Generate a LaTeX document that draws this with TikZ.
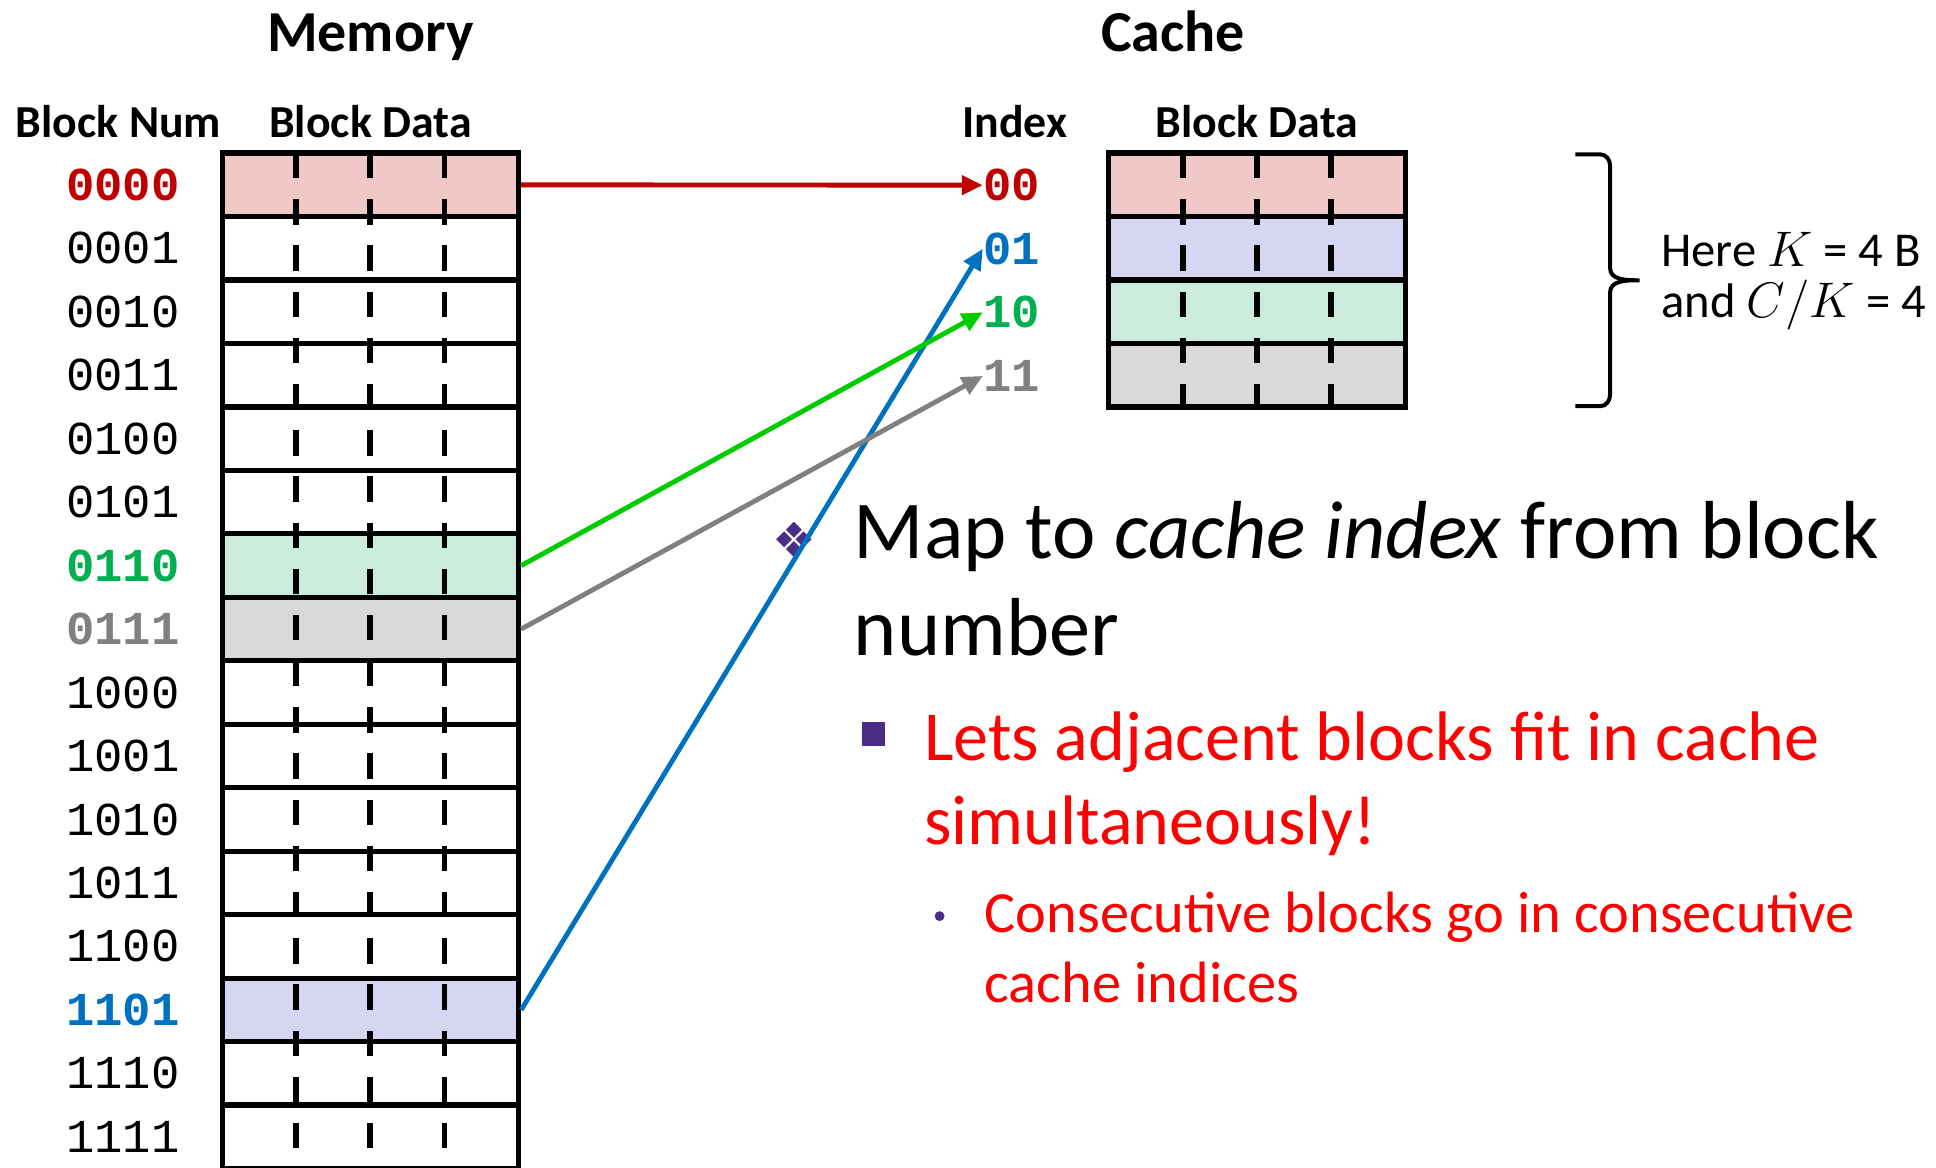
\documentclass[tikz,border=0pt]{standalone}
\usepackage{fontspec}
\setmainfont{Carlito}
\newfontfamily\codefont{Liberation Mono}
\newfontfamily\symfont{DejaVu Sans}
\usetikzlibrary{arrows.meta}

\definecolor{darkred}{HTML}{C00000}
\definecolor{brightred}{HTML}{FF0000}
\definecolor{idxblue}{HTML}{0070C0}
\definecolor{idxgreen}{HTML}{00B050}
\definecolor{linkgreen}{HTML}{00CC00}
\definecolor{idxgray}{HTML}{808080}
\definecolor{bulletpurple}{HTML}{4B2D88}
\definecolor{pinkrow}{HTML}{F0C8C8}
\definecolor{bluerow}{HTML}{D6D6F2}
\definecolor{mintrow}{HTML}{CBEBDC}
\definecolor{grayrow}{HTML}{D9D9D9}

\begin{document}
\begin{tikzpicture}[x=0.0125cm, y=-0.0125cm,
	cell/.style={draw, line width=1.5pt, minimum width=3cm, minimum height=0.6425cm, inner sep=0pt},
	divider/.style={line width=1.7pt, dash pattern=on 7.3pt off 6pt},
	num/.style={font=\codefont\fontsize{13.6}{13.6}\selectfont, inner sep=0pt, anchor=east},
	idx/.style={font=\codefont\bfseries\fontsize{13.6}{13.6}\selectfont, inner sep=0pt, anchor=west},
	head/.style={font=\bfseries\fontsize{13.2}{13.2}\selectfont, inner sep=0pt, anchor=base},
	title/.style={font=\bfseries\fontsize{16.7}{16.7}\selectfont, inner sep=0pt, anchor=base},
	line/.style={inner sep=0pt, anchor=base west},
	link/.style={line width=1.4pt, arrows={-Triangle[length=6pt,width=5.4pt]}}]
	\useasboundingbox (0,0) rectangle (1568,946);

	% headings
	\node[title] (memtitle) at (300,42) {Memory};
	\node[title] (cachetitle) at (950,42) {Cache};
	\node[head] (numhead) at (96,111) {Block Num};
	\node[head] (memhead) at (300,111) {Block Data};
	\node[head] (idxhead) at (822,111) {Index};
	\node[head] (cachehead) at (1018,111) {Block Data};

	% memory blocks
	\foreach \i/\shade in {0/pinkrow,1/white,2/white,3/white,4/white,5/white,6/mintrow,7/grayrow,
		8/white,9/white,10/white,11/white,12/white,13/bluerow,14/white,15/white}
		\node[cell, fill=\shade] (m\i) at (300,149.7+51.4*\i) {};
	\foreach \x in {240,300,360}
		\draw[divider] (\x,124) -- (\x,960);

	% block numbers
	\node[num, darkred, font=\codefont\bfseries\fontsize{13.6}{13.6}\selectfont] (n0) at (146,149.7) {0000};
	\foreach \i/\bits in {1/0001,2/0010,3/0011,4/0100,5/0101,8/1000,9/1001,10/1010,11/1011,12/1100,14/1110,15/1111}
		\node[num] (n\i) at (146,149.7+51.4*\i) {\bits};
	\node[num, idxgreen, font=\codefont\bfseries\fontsize{13.6}{13.6}\selectfont] (n6) at (146,458.1) {0110};
	\node[num, idxgray, font=\codefont\bfseries\fontsize{13.6}{13.6}\selectfont] (n7) at (146,509.5) {0111};
	\node[num, idxblue, font=\codefont\bfseries\fontsize{13.6}{13.6}\selectfont] (n13) at (146,817.9) {1101};

	% cache lines
	\foreach \i/\shade in {0/pinkrow,1/bluerow,2/mintrow,3/grayrow}
		\node[cell, fill=\shade] (c\i) at (1018,149.7+51.4*\i) {};
	\foreach \x in {958,1018,1078}
		\draw[divider] (\x,124) -- (\x,330);

	\node[idx, darkred] (i0) at (796,150) {00};
	\node[idx, idxblue] (i1) at (796,201.5) {01};
	\node[idx, idxgreen] (i2) at (796,253) {10};
	\node[idx, idxgray] (i3) at (796,304.5) {11};

	% brace and note
	\draw[line width=1.15pt] (1276,125) -- (1296,125) to[out=0,in=90] (1304,134) -- (1304,217)
		to[out=-90,in=180] (1328,227) to[out=180,in=90] (1304,237) -- (1304,320)
		to[out=-90,in=0] (1296,329) -- (1276,329);
	\node[line, font=\fontsize{14}{14}\selectfont] (note1) at (1345,216) {Here $K$ = 4 B};
	\node[line, font=\fontsize{14}{14}\selectfont] (note2) at (1345,257) {and $C/K$ = 4};

	% bullets
	\node[bulletpurple, font=\symfont\fontsize{14}{14}\selectfont, inner sep=0pt] (dia) at (643,437) {❖};
	\node[line, font=\fontsize{23.7}{23.7}\selectfont] (map1) at (691,452) {Map to \textit{cache index} from block};
	\node[line, font=\fontsize{23.7}{23.7}\selectfont] (map2) at (691,531) {number};
	\node[fill=bulletpurple, minimum size=0.2375cm, inner sep=0pt] (sq) at (707.5,594.5) {};
	\node[line, brightred, font=\fontsize{20.2}{20.2}\selectfont] (lets1) at (748,616) {Lets adjacent blocks fit in cache};
	\node[line, brightred, font=\fontsize{20.2}{20.2}\selectfont] (lets2) at (748,684) {simultaneously!};
	\node[circle, fill=bulletpurple, minimum size=0.1cm, inner sep=0pt] (dot) at (761,742) {};
	\node[line, brightred, font=\fontsize{16.8}{16.8}\selectfont] (cons1) at (797,755) {Consecutive blocks go in consecutive};
	\node[line, brightred, font=\fontsize{16.8}{16.8}\selectfont] (cons2) at (797,812) {cache indices};

	% mapping arrows
	\draw[link, darkred] (m0.east) -- (i0.west);
	\draw[link, idxblue] (m13.east) -- (i1.west);
	\draw[link, linkgreen] (m6.east) -- (i2.west);
	\draw[link, idxgray] (m7.east) -- (i3.west);
\end{tikzpicture}
\end{document}
